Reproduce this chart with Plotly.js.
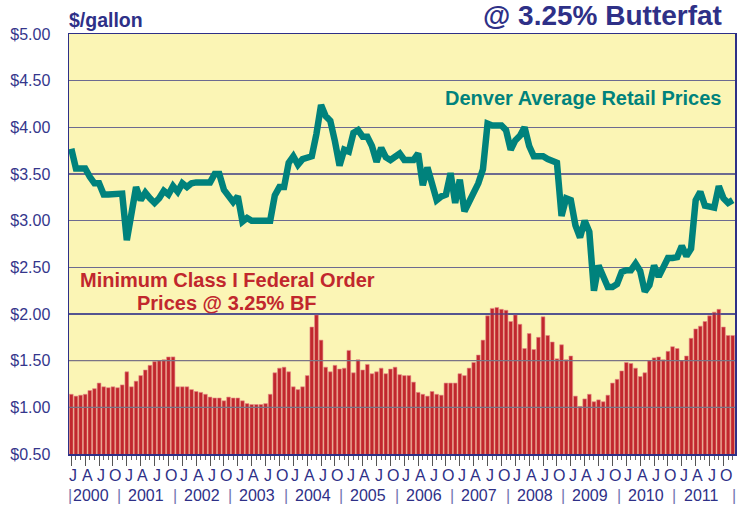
<!DOCTYPE html>
<html>
<head>
<meta charset="utf-8">
<script src="https://cdn.plot.ly/plotly-3.0.1.min.js"></script>
<style>html,body{margin:0;padding:0;background:#fff;}#chart{width:738px;height:506px;}</style>
</head>
<body>
<div id="chart"></div>
<script>
// ---- data (monthly, Jan 2000 - Dec 2011) ----
const years = ['2000','2001','2002','2003','2004','2005','2006','2007','2008','2009','2010','2011'];
const quarterLabels = ['J','A','J','O'];
const yTicks = [0.5,1.0,1.5,2.0,2.5,3.0,3.5,4.0,4.5,5.0];

const denverRetail = [
 3.77,3.56,3.56,3.56,3.47,3.40,3.40,3.28,3.28,3.28,3.28,3.29,
 2.79,3.07,3.36,3.22,3.30,3.24,3.19,3.24,3.32,3.28,3.37,3.31,
 3.40,3.36,3.40,3.41,3.41,3.41,3.41,3.50,3.50,3.33,3.27,3.20,
 3.26,2.99,3.03,3.00,3.00,3.00,3.00,3.00,3.27,3.36,3.36,3.62,
 3.69,3.60,3.66,3.67,3.69,3.93,4.24,4.12,4.07,3.85,3.59,3.76,
 3.74,3.94,3.97,3.90,3.90,3.80,3.63,3.78,3.68,3.65,3.69,3.72,
 3.65,3.65,3.65,3.72,3.38,3.57,3.38,3.22,3.26,3.28,3.51,3.19,
 3.44,3.10,3.20,3.30,3.40,3.55,4.04,4.02,4.02,4.02,3.97,3.76,
 3.86,3.91,4.00,3.80,3.69,3.69,3.69,3.66,3.64,3.62,3.05,3.24,
 3.22,2.95,2.82,3.00,2.88,2.25,2.52,2.38,2.29,2.29,2.32,2.45,
 2.47,2.47,2.54,2.46,2.24,2.31,2.52,2.40,2.50,2.60,2.60,2.61,
 2.73,2.62,2.70,3.22,3.31,3.16,3.15,3.14,3.37,3.24,3.19,3.22
];

const minClassI = [
 1.14,1.12,1.13,1.14,1.18,1.20,1.26,1.22,1.21,1.22,1.21,1.24,
 1.38,1.22,1.28,1.34,1.40,1.45,1.49,1.50,1.51,1.54,1.54,1.22,
 1.22,1.22,1.19,1.17,1.16,1.14,1.11,1.10,1.10,1.07,1.11,1.10,
 1.10,1.07,1.04,1.03,1.03,1.03,1.04,1.14,1.37,1.42,1.43,1.38,
 1.22,1.19,1.22,1.34,1.86,1.99,1.72,1.43,1.38,1.45,1.41,1.42,
 1.61,1.37,1.51,1.40,1.46,1.36,1.38,1.42,1.36,1.41,1.43,1.35,
 1.34,1.34,1.27,1.16,1.14,1.12,1.17,1.14,1.13,1.26,1.26,1.26,
 1.36,1.34,1.42,1.48,1.56,1.72,1.98,2.06,2.07,2.05,2.04,1.92,
 1.99,1.89,1.63,1.79,1.62,1.75,1.97,1.77,1.70,1.52,1.67,1.51,
 1.55,1.12,1.01,1.09,1.14,1.06,1.08,1.06,1.13,1.26,1.30,1.39,
 1.48,1.47,1.42,1.33,1.37,1.50,1.53,1.54,1.51,1.60,1.65,1.63,
 1.50,1.55,1.74,1.84,1.87,1.92,1.98,2.02,2.05,1.86,1.77,1.77
];

// ---- derived ----
const months = denverRetail.map((_, i) => i);
const qVals = [], qText = [];
for (let i = 0; i < months.length; i += 3) { qVals.push(i); qText.push(quarterLabels[(i / 3) % 4]); }
const yText = yTicks.map(v => '$' + v.toFixed(2));

const NAVY = '#2E3087';
const TEAL = '#00827C';
const RED = '#C1272D';
const FONT = 'Arial, "Liberation Sans", sans-serif';

const px2x = p => (p - 69) / 666;
const py2y = p => (454 - p) / 420;

const annotations = [];
// quarter letters
const qY = py2y(475.5);
qVals.forEach((v, j) => {
  annotations.push({x: v + 0.45, xref: 'x', y: qY, yref: 'paper', text: qText[j], showarrow: false,
    xanchor: 'center', yanchor: 'middle', font: {family: FONT, size: 16, color: NAVY}});
});
// year labels & separators
const yearY = py2y(495.5);
years.forEach((yr, k) => {
  annotations.push({x: 12 * k + 4.2, xref: 'x', y: yearY, yref: 'paper', text: yr, showarrow: false,
    xanchor: 'center', yanchor: 'middle', font: {family: FONT, size: 16, color: NAVY}});
  annotations.push({x: k === 0 ? -0.3 : 12 * k - 1.6, xref: 'x', y: yearY, yref: 'paper', text: '|', showarrow: false,
    xanchor: 'center', yanchor: 'middle', font: {family: FONT, size: 16, color: '#7275AE'}});
});
annotations.push({x: 143.2, xref: 'x', y: yearY, yref: 'paper', text: '|', showarrow: false,
  xanchor: 'center', yanchor: 'middle', font: {family: FONT, size: 16, color: '#7275AE'}});

annotations.push({xref: 'paper', yref: 'paper', x: px2x(724), y: py2y(16), xanchor: 'right', yanchor: 'middle',
  text: '<b>@ 3.25% Butterfat</b>', showarrow: false, font: {family: FONT, size: 28, color: NAVY}});
annotations.push({xref: 'paper', yref: 'paper', x: px2x(67), y: py2y(20), xanchor: 'left', yanchor: 'middle',
  text: '<b>$/gallon</b>', showarrow: false, font: {family: FONT, size: 19.5, color: NAVY}});
annotations.push({xref: 'paper', yref: 'paper', x: px2x(723), y: py2y(98), xanchor: 'right', yanchor: 'middle',
  text: '<b>Denver Average Retail Prices</b>', showarrow: false, font: {family: FONT, size: 20, color: TEAL}});
annotations.push({xref: 'paper', yref: 'paper', x: px2x(227), y: py2y(280), xanchor: 'center', yanchor: 'middle',
  text: '<b>Minimum Class I Federal Order</b>', showarrow: false, font: {family: FONT, size: 20, color: RED}});
annotations.push({xref: 'paper', yref: 'paper', x: px2x(227), y: py2y(303), xanchor: 'center', yanchor: 'middle',
  text: '<b>Prices @ 3.25% BF</b>', showarrow: false, font: {family: FONT, size: 20, color: RED}});

// gridlines that pass over the bars
const shapes = yTicks.filter(v => v > 0.5 && v <= 2.0).map(v => ({
  type: 'line', xref: 'paper', yref: 'y', x0: 0, x1: 1, y0: v, y1: v, layer: 'above',
  line: {color: v === 2.0 ? '#3C3F8F' : '#7A7486', width: 1.2}
}));

const traces = [
  {type: 'bar', x: months, y: minClassI, name: 'Minimum Class I',
   marker: {color: RED, line: {color: '#E58A8A', width: 0.6}}, hoverinfo: 'y'},
  {type: 'scatter', mode: 'lines', x: months, y: denverRetail, name: 'Denver Retail',
   line: {color: TEAL, width: 6.5, shape: 'linear'}, hoverinfo: 'y'}
];

const layout = {
  width: 738, height: 506,
  margin: {l: 69, r: 3, t: 34, b: 52, pad: 0},
  paper_bgcolor: '#FFFFFF', plot_bgcolor: '#FBF5B5',
  showlegend: false, bargap: 0.2,
  font: {family: FONT},
  xaxis: {
    range: [-0.5, 143.5], tickmode: 'array', tickvals: qVals, showticklabels: false,
    ticks: 'outside', ticklen: 10, tickwidth: 1, tickcolor: '#555555',
    minor: {tickmode: 'linear', tick0: 0, dtick: 1, ticks: 'outside', ticklen: 4, tickcolor: '#666666', tickwidth: 1, showgrid: false},
    showline: true, mirror: true, linecolor: NAVY, linewidth: 1.5, showgrid: false, zeroline: false,
    fixedrange: true
  },
  yaxis: {
    range: [0.5, 5], tickmode: 'array', tickvals: yTicks, ticktext: yText, ticks: '',
    tickfont: {family: FONT, size: 16, color: '#34368C'}, ticklabelstandoff: 14,
    showgrid: true, gridcolor: '#6C6A90', gridwidth: 1.2,
    showline: true, mirror: true, linecolor: NAVY, linewidth: 1.5, zeroline: false,
    fixedrange: true
  },
  shapes: shapes,
  annotations: annotations
};

Plotly.newPlot('chart', traces, layout, {staticPlot: true, displayModeBar: false});
</script>
</body>
</html>
